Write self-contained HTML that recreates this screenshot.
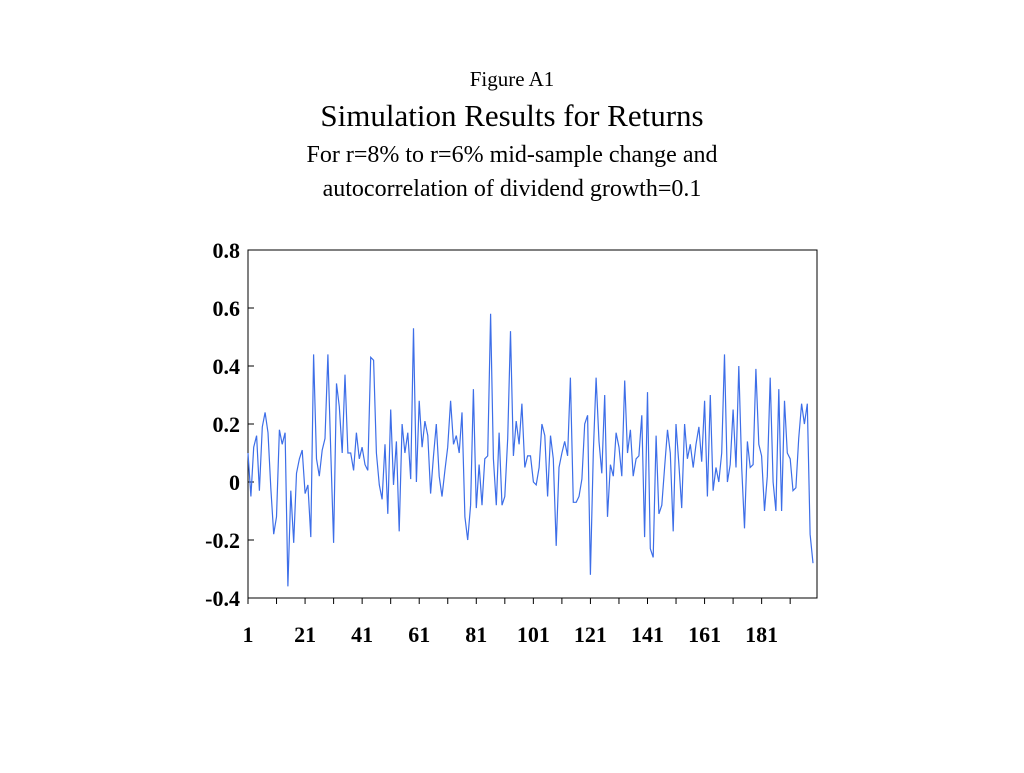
<!DOCTYPE html>
<html><head><meta charset="utf-8"><style>
body{margin:0;background:#fff;width:1024px;height:768px;overflow:hidden;font-family:"Liberation Serif",serif}
</style></head><body>
<svg width="1024" height="768" xmlns="http://www.w3.org/2000/svg">
<text x="512" y="86" text-anchor="middle" font-size="21">Figure A1</text>
<text x="512" y="126" text-anchor="middle" font-size="31">Simulation Results for Returns</text>
<text x="512" y="162" text-anchor="middle" font-size="24">For r=8% to r=6% mid-sample change and</text>
<text x="512" y="196" text-anchor="middle" font-size="24">autocorrelation of dividend growth=0.1</text>
<rect x="248" y="250" width="569" height="348" fill="none" stroke="#000" stroke-width="1"/>
<g id="axes"></g>
<path id="line" fill="none" stroke="#3d6ee8" stroke-width="1.2"/>
</svg>
<script>
const yTicks=[0.8,0.6,0.4,0.2,0,-0.2,-0.4];
const yTickLabels=["0.8","0.6","0.4","0.2","0","-0.2","-0.4"];
const xTickLabels=[1,21,41,61,81,101,121,141,161,181];
const values=[0.1,-0.05,0.12,0.16,-0.03,0.19,0.24,0.17,-0.02,-0.18,-0.12,0.18,0.13,0.17,-0.36,-0.03,-0.21,0.03,0.08,0.11,
-0.04,-0.01,-0.19,0.44,0.08,0.02,0.11,0.15,0.44,0.1,-0.21,0.34,0.26,0.1,0.37,0.1,0.1,0.04,0.17,0.08,0.12,
0.06,0.04,0.43,0.42,0.1,-0.01,-0.06,0.13,-0.11,0.25,-0.01,0.14,-0.17,0.2,0.1,0.17,0.01,0.53,0.0,0.28,
0.12,0.21,0.16,-0.04,0.09,0.2,0.02,-0.05,0.04,0.12,0.28,0.13,0.16,0.1,0.24,-0.12,-0.2,-0.08,0.32,-0.09,
0.06,-0.08,0.08,0.09,0.58,0.08,-0.08,0.17,-0.08,-0.05,0.15,0.52,0.09,0.21,0.13,0.27,0.05,0.09,0.09,0.0,-0.01,0.05,
0.2,0.16,-0.05,0.16,0.08,-0.22,0.05,0.1,0.14,0.09,0.36,-0.07,-0.07,-0.05,0.01,0.2,0.23,-0.32,0.1,0.36,
0.14,0.03,0.3,-0.12,0.06,0.02,0.17,0.12,0.02,0.35,0.1,0.18,0.02,0.08,0.09,0.23,-0.19,0.31,-0.23,-0.26,0.16,
-0.11,-0.08,0.05,0.18,0.1,-0.17,0.2,0.06,-0.09,0.2,0.08,0.13,0.05,0.13,0.19,0.07,0.28,-0.05,0.3,-0.03,0.05,
0.0,0.1,0.44,0.0,0.06,0.25,0.05,0.4,0.05,-0.16,0.14,0.05,0.06,0.39,0.13,0.09,-0.1,0.02,0.36,0.0,-0.1,
0.32,-0.1,0.28,0.1,0.08,-0.03,-0.02,0.15,0.27,0.2,0.27,-0.18,-0.28];
const X0=248,X1=817,Y0=250,Y1=598;
function xs(i){return X0+(i-1)*(565/198);}
function ys(v){return Y1-(v+0.4)/1.2*(Y1-Y0);}
const ns="http://www.w3.org/2000/svg",g=document.getElementById('axes');
yTicks.forEach((v,k)=>{
 const l=document.createElementNS(ns,'line');
 l.setAttribute('x1',X0);l.setAttribute('x2',X0+6);l.setAttribute('y1',ys(v));l.setAttribute('y2',ys(v));l.setAttribute('stroke','#000');
 
 
 g.appendChild(l);
 const t=document.createElementNS(ns,'text');
 t.setAttribute('x',X0-8);t.setAttribute('y',ys(v)+8);t.setAttribute('text-anchor','end');t.setAttribute('font-size','22');t.setAttribute('font-weight','bold');
 t.textContent=yTickLabels[k];
 
 
 g.appendChild(t);
});
for(let i=1;i<=191;i+=10){
 const l=document.createElementNS(ns,'line');
 l.setAttribute('x1',xs(i));l.setAttribute('x2',xs(i));l.setAttribute('y1',Y1);l.setAttribute('y2',Y1+6);l.setAttribute('stroke','#000');
 
 
 g.appendChild(l);
}
xTickLabels.forEach(v=>{
 const t=document.createElementNS(ns,'text');
 t.setAttribute('x',xs(v));t.setAttribute('y',642);t.setAttribute('text-anchor','middle');t.setAttribute('font-size','22');t.setAttribute('font-weight','bold');
 t.textContent=v;
 
 
 g.appendChild(t);
});
document.getElementById('line').setAttribute('d',values.map((v,i)=>(i?'L':'M')+xs(i+1).toFixed(1)+','+ys(v).toFixed(1)).join(''));
</script>
</body></html>
